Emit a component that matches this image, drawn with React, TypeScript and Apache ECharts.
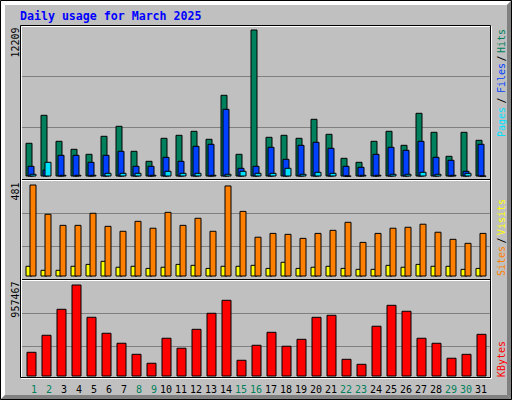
import React, { useEffect, useRef } from "react";
import * as echarts from "echarts";

const days = ["1","2","3","4","5","6","7","8","9","10","11","12","13","14","15","16","17","18","19","20","21","22","23","24","25","26","27","28","29","30","31"];
const weekendDays = ["1","2","8","9","15","16","22","23","29","30"];

const hits = [2800,5124,2965,2300,1885,3380,4211,2134,1304,3214,3463,3795,3131,6785,1885,12209,3297,3463,3214,4792,3546,1553,1221,2965,3795,2633,5290,3712,1719,3712,3048];
const files = [889,581,1802,1802,1221,1802,2134,889,889,1636,1304,2550,2716,5623,723,889,2467,1470,2633,2882,2384,889,806,1885,2467,2217,2965,1636,1387,473,2716];
const pages = [224,1221,141,141,141,307,307,307,141,473,307,307,141,224,473,307,307,723,224,390,307,58,141,141,224,224,390,224,141,307,58];
const visits = [56,35,35,56,66,82,51,56,45,51,66,61,45,56,56,61,45,77,45,51,56,45,40,40,61,51,66,56,56,40,45];
const sites = [481,328,270,270,333,265,239,291,255,338,270,307,239,476,343,208,228,223,202,228,244,286,181,228,255,260,276,234,197,176,228];
const kbytes = [257130,434220,704610,957467,621380,455040,351270,236150,143090,403310,299420,496180,663050,798240,174120,330260,465170,320080,392340,621010,642290,184210,132160,528330,746120,684050,403120,351080,195230,236040,444160];

const maxHits = 12209;
const maxSites = 481;
const maxKbytes = 957467;

const C = {
  hit: "#00805c",
  file: "#0040ff",
  page: "#00e0ff",
  visit: "#ffff00",
  site: "#ff8000",
  kbyte: "#ff0000",
  bg: "#c0c0c0",
  dk: "#808080",
};

const SMALL = '10px "DejaVu Sans Mono"';

function upText(text: string, x: number, y: number, fill: string, align = "right") {
  return {
    type: "text",
    x,
    y,
    rotation: Math.PI / 2,
    z: 20,
    silent: true,
    style: { text, fill, font: SMALL, align, verticalAlign: "middle" },
  };
}

function hline(y: number, stroke: string) {
  return {
    type: "line",
    z: 0,
    silent: true,
    shape: { x1: 21, y1: y, x2: 490, y2: y },
    style: { stroke, lineWidth: 1 },
  };
}

export default function App() {
  const ref = useRef<HTMLDivElement>(null);
  useEffect(() => {
    if (!ref.current) return;
    const chart = echarts.init(ref.current, null, { renderer: "svg" });
    const bar = (name: string, data: number[], color: string, gi: number, width: number, gap: string) => ({
      name,
      type: "bar",
      data,
      xAxisIndex: gi,
      yAxisIndex: gi,
      barWidth: width,
      barGap: gap,
      silent: true,
      itemStyle: { color, borderColor: "#000", borderWidth: 1 },
    });
    const hiddenX = (gi: number) => ({
      type: "category",
      gridIndex: gi,
      data: days,
      show: false,
      boundaryGap: true,
    });
    const hiddenY = (gi: number, max: number) => ({
      type: "value",
      gridIndex: gi,
      min: 0,
      max,
      show: false,
      splitLine: { show: false },
    });
    const graphic: any[] = [
      { type: "polygon", silent: true, z: 0, shape: { points: [[0, 0], [512, 0], [507, 5], [5, 5]] }, style: { fill: "#fff" } },
      { type: "polygon", silent: true, z: 0, shape: { points: [[0, 0], [5, 5], [5, 395], [0, 400]] }, style: { fill: "#fff" } },
      { type: "polygon", silent: true, z: 0, shape: { points: [[512, 0], [512, 400], [507, 395], [507, 5]] }, style: { fill: C.dk } },
      { type: "polygon", silent: true, z: 0, shape: { points: [[0, 400], [512, 400], [507, 395], [5, 395]] }, style: { fill: C.dk } },
      { type: "rect", silent: true, z: 1, shape: { x: 0.5, y: 0.5, width: 511, height: 399 }, style: { fill: "none", stroke: "#000", lineWidth: 1 } },
      { type: "rect", silent: true, z: 1, shape: { x: 21.5, y: 26.5, width: 470, height: 352 }, style: { fill: "none", stroke: "#fff", lineWidth: 1 } },
      { type: "rect", silent: true, z: 1, shape: { x: 20.5, y: 25.5, width: 470, height: 352 }, style: { fill: "none", stroke: "#000", lineWidth: 1 } },
      hline(179.5, "#000"),
      hline(180.5, "#fff"),
      hline(279.5, "#000"),
      hline(280.5, "#fff"),
      hline(76.5, C.dk),
      hline(127.5, C.dk),
      hline(213.5, C.dk),
      hline(246.5, C.dk),
      hline(313.5, C.dk),
      hline(346.5, C.dk),
      {
        type: "text",
        x: 20,
        y: 15.5,
        z: 20,
        silent: true,
        style: { text: "Daily usage for March 2025", fill: "#0000ff", font: 'bold 11.6px "DejaVu Sans Mono"', align: "left", verticalAlign: "middle" },
      },
      upText(String(maxHits), 15, 27.5, "#000"),
      upText(String(maxSites), 15, 182.5, "#000"),
      upText(String(maxKbytes), 15, 281.5, "#000"),
      upText("Hits", 501, 29, C.hit),
      upText("/", 501, 58.5, "#000", "center"),
      upText("Files", 501, 63, C.file),
      upText("/", 501, 100.5, "#000", "center"),
      upText("Pages", 501, 107, C.page),
      upText("Visits", 501, 199, C.visit),
      upText("/", 501, 240.5, "#000", "center"),
      upText("Sites", 501, 246, C.site),
      upText("KBytes", 501, 341, C.kbyte),
    ];
    chart.setOption({
      animation: false,
      backgroundColor: C.bg,
      tooltip: { show: false },
      grid: [
        { left: 23.5, width: 465, top: 29.5, height: 147 },
        { left: 23.5, width: 465, top: 184.5, height: 92 },
        { left: 24, width: 465, top: 284.5, height: 92 },
        { left: 29.5, width: 465, top: 376, height: 1 },
      ],
      xAxis: [
        hiddenX(0),
        hiddenX(1),
        hiddenX(2),
        {
          type: "category",
          gridIndex: 3,
          data: days,
          boundaryGap: true,
          axisLine: { show: false },
          axisTick: { show: false },
          splitLine: { show: false },
          axisLabel: {
            interval: 0,
            align: "right",
            verticalAlign: "middle",
            margin: 12,
            font: SMALL,
            fontFamily: "DejaVu Sans Mono",
            fontSize: 10,
            color: (v: string) => (weekendDays.includes(v) ? C.hit : "#000"),
          },
        },
      ],
      yAxis: [hiddenY(0, maxHits), hiddenY(1, maxSites), hiddenY(2, maxKbytes), hiddenY(3, 1)],
      series: [
        bar("Hits", hits, C.hit, 0, 7, "-71.4286%"),
        bar("Files", files, C.file, 0, 7, "-71.4286%"),
        bar("Pages", pages, C.page, 0, 7, "-71.4286%"),
        bar("Visits", visits, C.visit, 1, 7, "-42.857%"),
        bar("Sites", sites, C.site, 1, 7, "-42.857%"),
        bar("KBytes", kbytes, C.kbyte, 2, 10, "0%"),
      ],
      graphic,
    });
    return () => chart.dispose();
  }, []);
  return <div ref={ref} style={{ position: "absolute", left: 0, top: 0, width: 512, height: 400 }} />;
}
